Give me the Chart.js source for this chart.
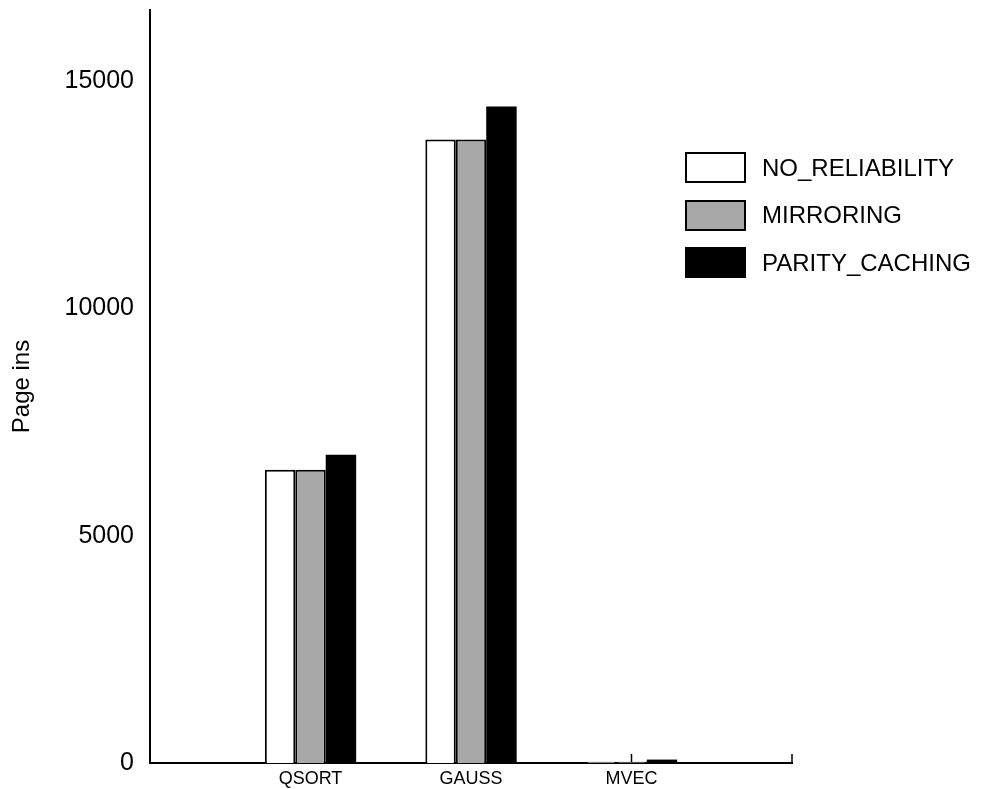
<!DOCTYPE html>
<html>
<head>
<meta charset="utf-8">
<script src="https://cdn.jsdelivr.net/npm/chart.js@4.4.1/dist/chart.umd.min.js"></script>
<style>
  body { margin: 0; background: #fff; }
  #wrap { position: relative; width: 992px; height: 789px; }
  #legend { position: absolute; left: 685px; top: 152px; font-family: "Liberation Sans", Arial, sans-serif; font-size: 24px; color: #000; }
  .item { display: flex; align-items: center; height: 31px; margin-bottom: 16.5px; }
  .box { width: 57px; height: 27px; border: 2px solid #000; margin-right: 16px; }
</style>
</head>
<body>
<div id="wrap">
  <canvas id="myChart" width="992" height="789"></canvas>
  <div id="legend"></div>
</div>
<script>
var categories = ['QSORT', 'GAUSS', 'MVEC'];
var seriesNames = ['NO_RELIABILITY', 'MIRRORING', 'PARITY_CACHING'];
var noReliability = [6450, 13710, 25];
var mirroring = [6450, 13710, 25];
var parityCaching = [6780, 14440, 75];
var yTicks = [0, 5000, 10000, 15000];

var fills = ['#ffffff', '#a8a8a8', '#000000'];
var borders = [2, 2, 0];

// empty slots at both ends so the categories sit at 1..3 of 0..4
var labels = [''].concat(categories, ['']);
function pad(arr) { return [null].concat(arr, [null]); }

var upTicks = {
  id: 'upTicks',
  beforeDatasetsDraw: function(chart) {
    var x = chart.scales.x, ctx = chart.ctx;
    ctx.save();
    ctx.strokeStyle = '#000';
    ctx.lineWidth = 1.5;
    for (var i = 0; i < x.ticks.length; i++) {
      var px = x.getPixelForTick(i);
      ctx.beginPath();
      ctx.moveTo(px, x.top);
      ctx.lineTo(px, x.top - 9);
      ctx.stroke();
    }
    ctx.restore();
  }
};

var ctx = document.getElementById('myChart').getContext('2d');
var myChart = new Chart(ctx, {
  type: 'bar',
  data: {
    labels: labels,
    datasets: [noReliability, mirroring, parityCaching].map(function(d, i) {
      return {
        label: seriesNames[i],
        data: pad(d),
        backgroundColor: fills[i],
        borderColor: '#000',
        borderWidth: borders[i],
        borderSkipped: 'bottom'
      };
    })
  },
  options: {
    responsive: false,
    animation: false,
    layout: { padding: { left: 0, top: 10, right: 200, bottom: 0 } },
    categoryPercentage: 0.569,
    barPercentage: 1,
    plugins: { legend: { display: false }, tooltip: { enabled: false } },
    scales: {
      x: {
        offset: false,
        grid: { display: false, drawTicks: false },
        border: { color: '#000', width: 2 },
        ticks: {
          color: '#000',
          font: { family: 'Liberation Sans', size: 18 },
          padding: 5,
          maxRotation: 0,
          autoSkip: false
        },
        afterFit: function(s) { s.height = 26; s.paddingLeft = 0; s.paddingRight = 0; }
      },
      y: {
        min: 0,
        max: 16560,
        grid: { display: false, drawTicks: false },
        border: { color: '#000', width: 2 },
        afterBuildTicks: function(s) { s.ticks = yTicks.map(function(v) { return { value: v }; }); },
        ticks: {
          color: '#000',
          font: { family: 'Liberation Sans', size: 25 },
          padding: 16,
          callback: function(v) { return String(v); }
        },
        title: {
          display: true,
          text: 'Page ins',
          color: '#000',
          font: { family: 'Liberation Sans', size: 24 },
          padding: { top: 8, bottom: 0 }
        },
        afterFit: function(s) { s.width = 150; s.paddingTop = 0; s.paddingBottom = 0; }
      }
    }
  },
  plugins: [upTicks]
});

var legend = document.getElementById('legend');
seriesNames.forEach(function(name, i) {
  var row = document.createElement('div');
  row.className = 'item';
  row.innerHTML = '<div class="box" style="background:' + fills[i] + '"></div><span>' + name + '</span>';
  legend.appendChild(row);
});
</script>
</body>
</html>
